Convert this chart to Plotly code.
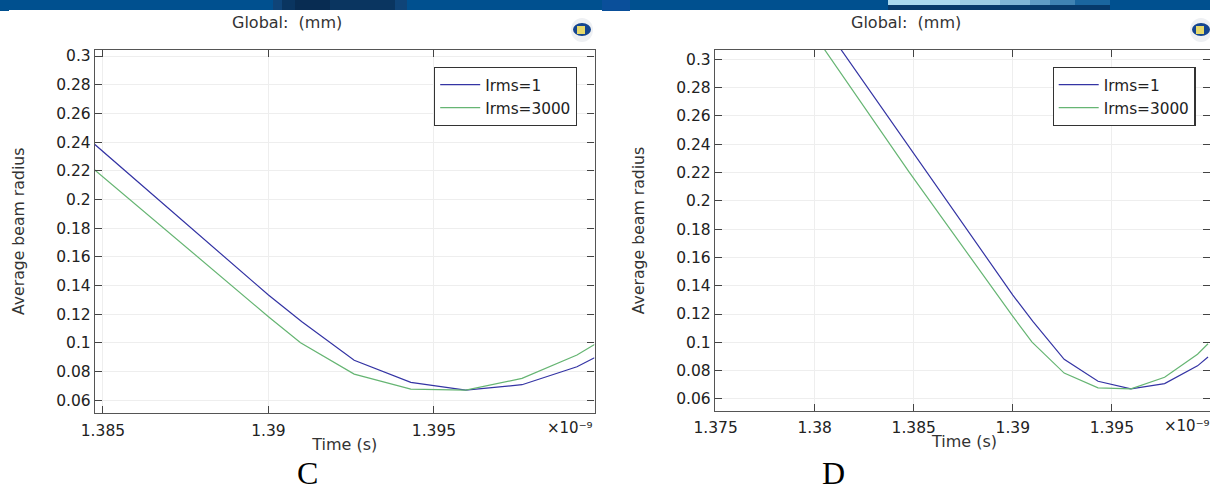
import plotly.graph_objects as go

W, H = 1210, 486

# ---- data (time in units of 1e-9 s) ----
time_irms1 = [1.38, 1.38476, 1.39, 1.39101, 1.39259, 1.3943, 1.39596, 1.39766, 1.39932, 1.39985]
radius_irms1 = [0.3335, 0.238, 0.1334, 0.1148, 0.088, 0.0725, 0.0672, 0.0709, 0.0834, 0.0897]
time_irms3000 = [1.38, 1.38476, 1.39, 1.39097, 1.39259, 1.3943, 1.39596, 1.39766, 1.39932, 1.39985]
radius_irms3000 = [0.317, 0.2205, 0.1183, 0.1002, 0.0783, 0.0679, 0.0672, 0.0753, 0.0916, 0.099]

y_ticks = [0.06, 0.08, 0.1, 0.12, 0.14, 0.16, 0.18, 0.2, 0.22, 0.24, 0.26, 0.28, 0.3]
y_labels = ["0.06", "0.08", "0.1", "0.12", "0.14", "0.16", "0.18", "0.2", "0.22", "0.24", "0.26", "0.28", "0.3"]
x_ticks_c = [1.385, 1.39, 1.395]
x_labels_c = ["1.385", "1.39", "1.395"]
x_ticks_d = [1.375, 1.38, 1.385, 1.39, 1.395]
x_labels_d = ["1.375", "1.38", "1.385", "1.39", "1.395"]

BLUE = "#3434a4"
GREEN = "#66b573"
FONT = "DejaVu Sans"
INK = "#222222"


def fx(px):
    return px / W


def fy(py):
    return 1 - py / H


fig = go.Figure()
for xa, ya, leg in [("x", "y", "legend"), ("x2", "y2", "legend2")]:
    fig.add_trace(go.Scatter(x=time_irms1, y=radius_irms1, mode="lines", name="Irms=1",
                             line=dict(color=BLUE, width=1.2), xaxis=xa, yaxis=ya, legend=leg))
    fig.add_trace(go.Scatter(x=time_irms3000, y=radius_irms3000, mode="lines", name="Irms=3000",
                             line=dict(color=GREEN, width=1.2), xaxis=xa, yaxis=ya, legend=leg))


def xaxis(dom, rng, vals, labels, anchor, title, tick_off):
    return dict(domain=dom, range=rng, tickmode="array", tickvals=vals, ticktext=labels, anchor=anchor,
                ticks="inside", ticklen=7, tickwidth=1, tickcolor="#444444", mirror="allticks",
                showline=True, linecolor="#555555", linewidth=1.4, showgrid=True, gridcolor="#eeeeee",
                gridwidth=1, zeroline=False, tickfont=dict(family=FONT, size=15.5, color=INK),
                ticklabelstandoff=tick_off,
                title=dict(text=title, font=dict(family=FONT, size=16, color="#333333"), standoff=0),
                automargin=False)


def yaxis(dom, rng, anchor, standoff):
    return dict(domain=dom, range=rng, tickmode="array", tickvals=y_ticks, ticktext=y_labels, anchor=anchor,
                ticks="inside", ticklen=7, tickwidth=1, tickcolor="#444444", mirror="allticks",
                showline=True, linecolor="#555555", linewidth=1.4, showgrid=True, gridcolor="#eeeeee",
                gridwidth=1, zeroline=False, tickfont=dict(family=FONT, size=15.5, color=INK),
                title=dict(text="Average beam radius", font=dict(family=FONT, size=15.7, color="#333333"),
                           standoff=standoff),
                automargin=False)


def legend(right_px):
    return dict(xref="paper", yref="paper", x=fx(right_px), y=fy(67), xanchor="right", yanchor="top",
                bgcolor="white", bordercolor="#333333", borderwidth=1.2,
                font=dict(family=FONT, size=15.3, color=INK), itemwidth=40, entrywidth=100, entrywidthmode="pixels",
                tracegroupgap=0)


BAND = "#00508f"
shapes = [
    dict(type="rect", xref="paper", yref="paper", x0=0, x1=1, y0=fy(10), y1=1, fillcolor=BAND, line_width=0, layer="below"),
    dict(type="rect", xref="paper", yref="paper", x0=0, x1=fx(9), y0=fy(11), y1=1, fillcolor=BAND, line_width=0, layer="below"),
    dict(type="rect", xref="paper", yref="paper", x0=fx(602), x1=fx(630), y0=fy(11), y1=1, fillcolor="#0a4f9a", line_width=0, layer="below"),
]
# dark patch (panel C) and light patch (panel D) in the header band
for x0, x1, c in [(273, 282, "#0f4478"), (282, 295, "#0a3560"), (295, 330, "#082c52"), (330, 395, "#0a3560"), (395, 407, "#0f4478")]:
    shapes.append(dict(type="rect", xref="paper", yref="paper", x0=fx(x0), x1=fx(x1), y0=fy(10), y1=1,
                       fillcolor=c, line_width=0, layer="below"))
for x0, x1, c in [(888, 960, "#a9d8ee"), (960, 1000, "#9accE4".lower()), (1000, 1030, "#7fb5d6"), (1030, 1050, "#5f9cc5"),
                  (1050, 1075, "#3f83b3"), (1075, 1110, "#1a669f")]:
    shapes.append(dict(type="rect", xref="paper", yref="paper", x0=fx(x0), x1=fx(x1), y0=fy(5), y1=1,
                       fillcolor=c, line_width=0, layer="below"))
shapes.append(dict(type="rect", xref="paper", yref="paper", x0=fx(888), x1=fx(1110), y0=fy(10), y1=fy(5),
                   fillcolor="#063a6b", line_width=0, layer="below"))
# small app icon at the top right of each panel
for cx in (582, 1201):
    shapes += [
        dict(type="circle", xref="paper", yref="paper", x0=fx(cx - 11), x1=fx(cx + 11), y0=fy(42), y1=fy(18),
             fillcolor="#eef0f3", line_width=0, layer="below"),
        dict(type="circle", xref="paper", yref="paper", x0=fx(cx - 9), x1=fx(cx + 9), y0=fy(36), y1=fy(23),
             fillcolor="#14458f", line_width=0, layer="below"),
        dict(type="rect", xref="paper", yref="paper", x0=fx(cx - 5), x1=fx(cx + 3), y0=fy(34), y1=fy(26),
             fillcolor="#e6d86a", line_width=0, layer="below"),
    ]

anns = []
for cx, txt in [(287, "Global:  (mm)"), (906, "Global:  (mm)")]:
    anns.append(dict(xref="paper", yref="paper", x=fx(cx), y=fy(22), text=txt, showarrow=False,
                     xanchor="center", yanchor="middle", font=dict(family=FONT, size=16, color="#333333")))
for cx, txt in [(308, "C"), (834, "D")]:
    anns.append(dict(xref="paper", yref="paper", x=fx(cx), y=fy(473), text=txt, showarrow=False, height=26,
                     xanchor="center", yanchor="middle", font=dict(family="Liberation Serif", size=32, color="#000000")))
for rx, ty in [(595, 428), (1212, 426)]:
    anns.append(dict(xref="paper", yref="paper", x=fx(rx), y=fy(ty), text="×10⁻⁹", showarrow=False,
                     xanchor="right", yanchor="middle", font=dict(family=FONT, size=15, color=INK)))
# panel D's axis title sits closer than an axis title can: it overlaps the tick labels' row
anns.append(dict(xref="paper", yref="paper", x=fx(964), y=fy(441), text="Time (s)", showarrow=False,
                 xanchor="center", yanchor="middle", font=dict(family=FONT, size=16, color="#333333")))

fig.update_layout(
    width=W, height=H, autosize=False, margin=dict(l=0, r=0, t=0, b=0),
    paper_bgcolor="white", plot_bgcolor="white",
    xaxis=xaxis([fx(95), fx(594.5)], [1.38476, 1.39985], x_ticks_c, x_labels_c, "y", "Time (s)", 3),
    yaxis=yaxis([fy(412.7), fy(50)], [0.0514, 0.3042], "x", 27),
    xaxis2=xaxis([fx(715), 1], [1.37497, 1.39995], x_ticks_d, x_labels_d, "y2", "", 2),
    yaxis2=yaxis([fy(411), fy(50)], [0.0515, 0.3066], "x2", 27),
    legend=legend(577), legend2=legend(1195.5),
    shapes=shapes, annotations=anns,
)

fig.write_html("out.html", config={"displayModeBar": False},
               post_script="document.body.style.margin='0';document.body.style.overflow='hidden';")
